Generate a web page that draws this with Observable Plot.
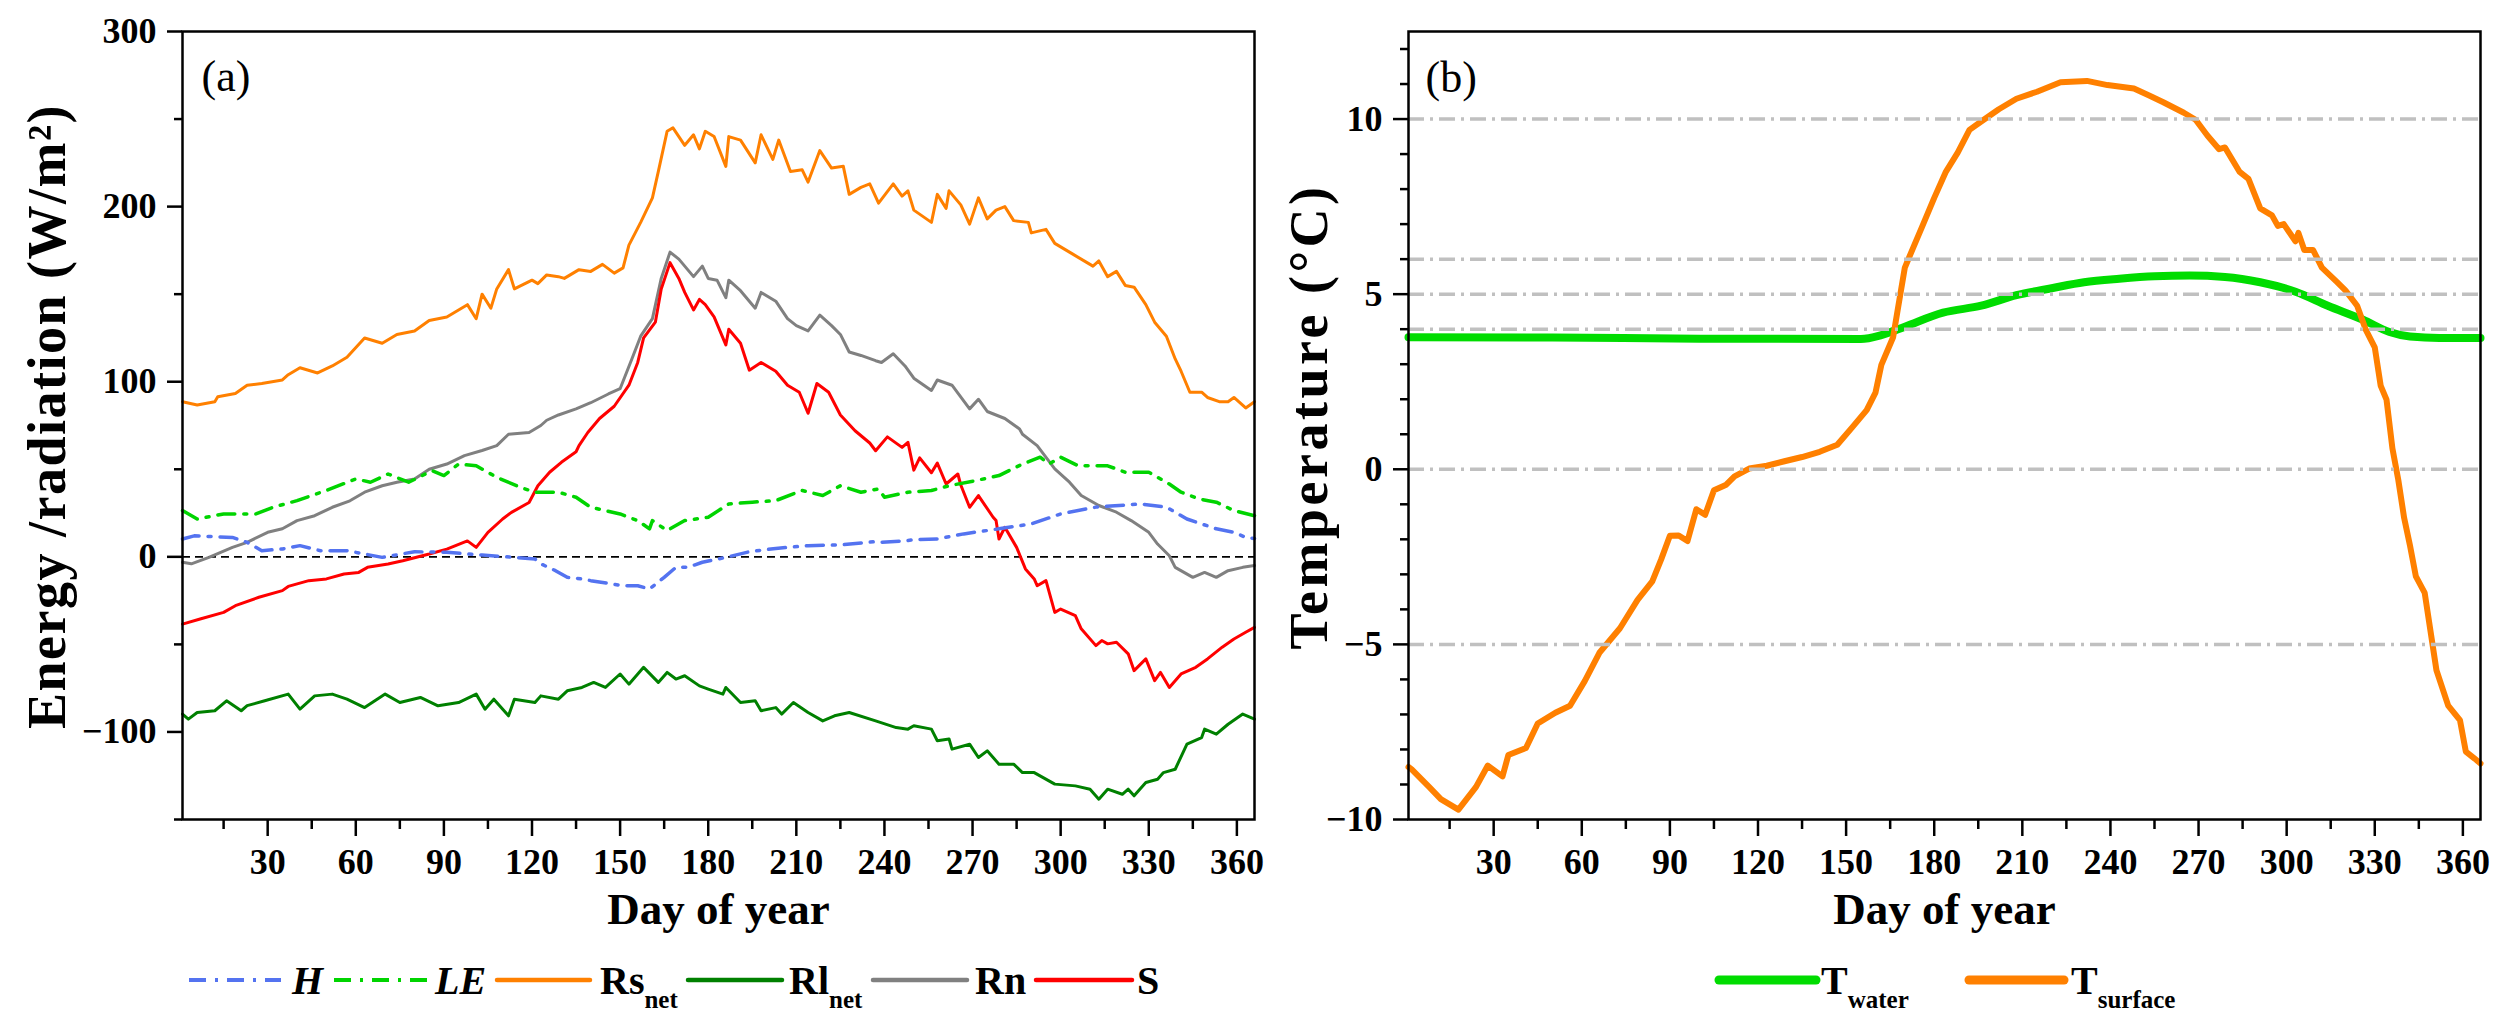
<!DOCTYPE html>
<html>
<head>
<meta charset="utf-8">
<script src="https://cdn.jsdelivr.net/npm/d3@7"></script>
<script src="https://cdn.jsdelivr.net/npm/@observablehq/plot@0.6"></script>
<style>
  html, body { margin: 0; padding: 0; background: #fff; }
  body { width: 2509px; height: 1030px; position: relative; overflow: hidden; font-family: "Liberation Serif", "Times New Roman", serif; }
  .panel { position: absolute; top: 0; }
  .panel svg { max-width: none; overflow: visible; }
  .legend { position: absolute; top: 945px; left: 0; }
</style>
</head>
<body>
<div id="panelA" class="panel" style="left:0px"></div>
<div id="panelB" class="panel" style="left:1226px"></div>
<svg id="legend" class="legend" width="2509" height="85"></svg>
<script>
// ---- Panel (a): daily energy / radiation terms, W/m² ----
const H = [[1,10.2],[5,12],[18,11.1],[23,8.3],[28,3.5],[35,4.5],[41,6.4],[48,3.5],[57,3.5],[69,-0.3],[80,2.9],[91,2.6],[103,1],[114,-0.3],[121,-1.2],[123,-4],[128,-7.9],[130,-9.8],[132,-11.7],[137,-12.6],[140,-13.6],[151,-16.5],[156,-16.5],[160,-18.4],[165,-11.7],[169,-6],[173,-6],[178,-3.1],[186,-0.3],[194,2.9],[203,4.8],[214,6.4],[225,6.8],[237,8.7],[239,8.3],[248,9.3],[250,9.8],[258,10.2],[267,13.1],[279,16],[290,18.8],[300,24.5],[312,28.4],[327,30.2],[336,28.4],[343,21.6],[353,16],[359,14],[363,11.1],[366,10.5]];

const LE = [[1,26.4],[6,21.6],[15,24.5],[26,24.5],[32,28.4],[40,32.1],[50,37.9],[60,44.5],[65,42.6],[71,47.3],[78,42.6],[86,49.2],[90,46.4],[95,53],[101,52],[108,45.4],[116,39.7],[121,36.9],[129,36.9],[135,34],[140,28.3],[150,24.5],[156,20.7],[160,16],[161,20.7],[166,15],[172,20.7],[180,22.6],[187,30.2],[195,31.2],[203,32.1],[212,37.9],[219,35],[225,40.6],[232,36.9],[238,38.8],[240,34],[248,36.9],[256,37.9],[262,40.6],[271,43.5],[279,46.4],[287,53],[293,56.9],[296,53],[300,56.9],[306,52],[316,52],[322,48.3],[330,48.3],[337,41.6],[341,36.9],[347,33.1],[353,31.2],[359,26.4],[366,23.5]];

const RsNet = [[1,88.6],[6,86.7],[12,88.6],[13,91.4],[19,93.3],[23,98],[28,99],[35,101],[37,104],[41,108],[47,105],[52,109],[57,114],[63,125],[69,122],[74,127],[80,129],[85,135],[91,137],[98,144],[101,136],[103,150],[106,142],[108,153],[112,164],[114,153],[120,158],[122,156],[125,161],[129,160],[131,159],[136,164],[140,163],[144,167],[148,162],[151,165],[153,178],[157,191],[161,205],[163,220],[166,243],[168,245],[172,235],[175,241],[177,233],[179,243],[182,240],[186,223],[187,240],[191,238],[196,225],[198,241],[202,227],[204,238],[208,220],[212,221],[214,214],[218,232],[222,222],[226,223],[228,207],[232,211],[235,213],[238,202],[243,213],[246,206],[248,209],[250,198],[256,191],[258,207],[261,199],[262,209],[266,201],[269,190],[272,205],[275,193],[278,198],[281,200],[284,192],[289,191],[290,185],[295,187],[298,179],[304,173],[311,166],[313,169],[316,160],[319,163],[322,155],[325,154],[329,144],[332,134],[336,126],[339,113],[341,106],[344,94],[348,94],[350,91],[354,88.6],[357,88.6],[359,91],[363,85],[366,88.6]];

const RlNet = [[1,-89.8],[3,-92.7],[6,-88.9],[12,-87.9],[16,-82.2],[21,-87.9],[23,-85],[29,-82.2],[37,-78.4],[41,-87],[46,-79.4],[52,-78.4],[57,-81.3],[63,-86.1],[70,-78.4],[75,-83.2],[82,-80.3],[88,-85.1],[95,-83.2],[101,-78.4],[104,-87],[107,-81.3],[112,-90.8],[114,-81.3],[121,-83.2],[123,-79.4],[129,-81.3],[132,-76.5],[137,-74.6],[141,-71.7],[145,-74.6],[150,-66.9],[153,-72.7],[158,-63.1],[163,-71.7],[166,-66],[169,-69.8],[172,-67.9],[177,-73.7],[180,-75.5],[185,-78.4],[186,-74.6],[191,-83.2],[196,-82.2],[198,-87.9],[203,-86.1],[205,-89.8],[209,-83.2],[214,-88.9],[219,-93.7],[223,-90.8],[228,-88.9],[237,-93.7],[244,-97.5],[248,-98.4],[250,-96.5],[256,-98.4],[258,-105],[262,-104],[263,-109.8],[269,-107],[272,-114.6],[275,-110.8],[279,-118.4],[284,-118.4],[287,-123.2],[291,-123.2],[298,-129.8],[305,-130.8],[310,-132.7],[313,-138.4],[316,-132.7],[321,-135.6],[323,-132.7],[325,-136.5],[329,-128.9],[333,-127],[335,-123.2],[339,-121.3],[343,-107],[348,-103.2],[349,-98.4],[353,-101.3],[357,-95.6],[362,-89.8],[366,-92.7]];

const Rn = [[1,-3.1],[4,-4],[10,-0.3],[18,5.4],[23,8.3],[30,14],[35,16],[40,20.7],[46,23.5],[52,28.3],[58,32],[63,36.9],[69,40.6],[74,42.6],[80,44.5],[85,50],[91,53],[97,57.8],[103,60.7],[108,63.5],[112,70],[119,71],[123,75],[125,78],[129,81],[135,84.5],[140,88],[146,93],[150,96],[154,113],[157,126],[161,136],[164,159],[167,174],[170,170],[172,166],[175,160],[178,166],[180,159],[183,158],[186,148],[187,158],[191,152],[196,142],[198,151],[203,146],[207,136],[210,132],[214,129],[218,138],[222,132],[225,127],[228,117],[232,115],[237,112],[239,111],[243,116],[247,109],[250,102],[256,95],[258,101],[263,98],[269,84.5],[272,90],[275,83],[281,79],[286,73],[287,70],[292,63.5],[298,50.2],[303,42.6],[307,35],[313,29.3],[319,25.5],[324,20.7],[330,14],[333,7.3],[337,0.6],[339,-6],[345,-11.7],[349,-8.9],[353,-11.7],[357,-7.9],[362,-6],[366,-5]];

const S = [[1,-38.4],[7,-35.5],[15,-31.7],[19,-27.9],[27,-23.1],[35,-19.3],[37,-16.9],[44,-13.6],[50,-12.6],[56,-9.8],[61,-8.9],[64,-6],[71,-4.1],[76,-2.2],[85,1.6],[91,4.4],[98,9.1],[101,5.4],[105,14],[110,21.6],[113,25.4],[119,31],[122,40.6],[126,48.3],[130,54],[135,60],[136,63.5],[139,71],[143,79],[148,86],[153,98],[156,111],[158,125],[162,134],[164,153],[167,168],[170,159],[172,151],[175,141],[177,147],[179,144],[182,137],[186,121],[187,130],[191,122],[194,106.6],[198,111],[203,106],[207,98],[211,94],[214,82],[217,99],[221,94],[225,81],[230,72],[235,65],[237,60.6],[241,68.5],[246,62.5],[248,65.4],[250,49.5],[252,56.5],[256,48],[258,53.5],[261,41.6],[265,47.3],[266,41],[269,28.3],[272,35],[277,22.6],[278,20.7],[279,10.2],[281,16.9],[285,5.4],[288,-6.9],[291,-12.6],[292,-16.5],[295,-13.6],[298,-31.7],[300,-29.8],[305,-33.6],[307,-41.1],[312,-50.7],[314,-47.8],[316,-49.7],[319,-48.8],[323,-55.4],[325,-65],[329,-58.3],[332,-70.7],[334,-66],[337,-74.6],[341,-66.9],[346,-63.1],[350,-58.3],[355,-51.6],[359,-46.9],[363,-43.1],[366,-40.3]];

// ---- Panel (b): water and surface temperature, °C ----
const Twater = [[1,3.77],[50,3.76],[100,3.73],[155,3.72],[162,3.83],[170,4.07],[183,4.47],[196,4.67],[208,4.97],[220,5.17],[231,5.34],[243,5.44],[255,5.51],[267,5.53],[279,5.49],[291,5.34],[303,5.07],[314,4.67],[326,4.27],[335,3.92],[342,3.79],[352,3.75],[366,3.75]];

const Tsurface = [[1,-8.5],[2,-8.56],[8,-9.07],[12,-9.42],[18,-9.72],[24,-9.07],[28,-8.46],[33,-8.77],[35,-8.16],[41,-7.96],[45,-7.26],[51,-6.95],[56,-6.75],[61,-6.05],[66,-5.24],[73,-4.54],[79,-3.73],[84,-3.2],[87,-2.58],[90,-1.9],[93,-1.89],[96,-2.05],[99,-1.14],[102,-1.3],[105,-0.6],[109,-0.45],[112,-0.2],[117,0.02],[123,0.1],[129,0.23],[135,0.35],[141,0.5],[147,0.7],[152,1.19],[157,1.69],[160,2.19],[162,2.98],[166,3.77],[168,4.77],[170,5.76],[173,6.36],[176,6.95],[180,7.75],[184,8.5],[188,9.04],[192,9.69],[196,9.93],[202,10.28],[208,10.58],[215,10.78],[223,11.05],[232,11.09],[239,10.97],[248,10.87],[253,10.68],[258,10.48],[265,10.18],[269,9.98],[273,9.53],[277,9.14],[279,9.19],[284,8.49],[287,8.29],[291,7.45],[295,7.25],[297,6.95],[299,7.0],[303,6.51],[304,6.75],[306,6.26],[309,6.26],[312,5.76],[317,5.36],[320,5.11],[324,4.67],[327,3.97],[330,3.48],[332,2.39],[334,1.99],[336,0.6],[338,-0.3],[340,-1.39],[342,-2.18],[344,-3.06],[347,-3.53],[351,-5.74],[355,-6.75],[359,-7.16],[361,-8.06],[364,-8.26],[366,-8.4]];

// Axis ticks
const dayTicks = [30, 60, 90, 120, 150, 180, 210, 240, 270, 300, 330, 360];
const dayMinorTicks = [15, 45, 75, 105, 135, 165, 195, 225, 255, 285, 315, 345];
const energyTicks = [-100, 0, 100, 200, 300];
const energyMinorTicks = [-150, -50, 50, 150, 250];
const tempTicks = [-10, -5, 0, 5, 10];
const tempMinorTicks = [-9, -8, -7, -6, -4, -3, -2, -1, 1, 2, 3, 4, 6, 7, 8, 9, 11, 12];
const tempRefLines = [10, 6, 5, 4, 0, -5];

const rows = (pairs) => pairs.map(([day, value]) => ({day, value}));

const FONT = "Liberation Serif, Times New Roman, serif";
const SOLID = 3;
const DASHDOT = "17,9,3,9";

function commonAxes(yMajor, yMinor) {
  return [
    Plot.axisX(dayMinorTicks, {tickSize: 10, tickFormat: () => "", strokeWidth: 2.5, label: null}),
    Plot.axisX(dayTicks, {tickSize: 17, tickPadding: 12, strokeWidth: 2.5, fontSize: 36, fontWeight: "bold", label: null}),
    Plot.axisY(yMinor, {tickSize: 8, tickFormat: () => "", strokeWidth: 2.5, label: null}),
    Plot.axisY(yMajor, {tickSize: 15, tickPadding: 11, strokeWidth: 2.5, fontSize: 36, fontWeight: "bold", label: null}),
    Plot.frame({strokeWidth: 2.5}),
    Plot.text(["Day of year"], {frameAnchor: "bottom", dy: 104, lineAnchor: "bottom", fontSize: 45, fontWeight: "bold"})
  ];
}

const style = {fontFamily: FONT, fontSize: "36px", color: "black", background: "transparent", overflow: "visible"};

// Panel (a)
const plotA = Plot.plot({
  width: 1270, height: 945,
  marginLeft: 182, marginRight: 16, marginTop: 31, marginBottom: 126,
  x: {domain: [1, 366]},
  y: {domain: [-150, 300]},
  style,
  marks: [
    Plot.ruleY([0], {stroke: "black", strokeWidth: 1.8, strokeDasharray: "8,5"}),
    Plot.line(rows(RsNet), {x: "day", y: "value", stroke: "#ff8000", strokeWidth: SOLID}),
    Plot.line(rows(Rn), {x: "day", y: "value", stroke: "#808080", strokeWidth: SOLID}),
    Plot.line(rows(S), {x: "day", y: "value", stroke: "#ff0000", strokeWidth: SOLID}),
    Plot.line(rows(RlNet), {x: "day", y: "value", stroke: "#008000", strokeWidth: SOLID}),
    Plot.line(rows(LE), {x: "day", y: "value", stroke: "#00d400", strokeWidth: 3.5, strokeDasharray: DASHDOT}),
    Plot.line(rows(H), {x: "day", y: "value", stroke: "#5473f0", strokeWidth: 3.5, strokeDasharray: DASHDOT}),
    ...commonAxes(energyTicks, energyMinorTicks),
    Plot.text(["Energy /radiation (W/m²)"], {frameAnchor: "left", dx: -118, dy: -9, rotate: -90, textAnchor: "middle", lineAnchor: "bottom", fontSize: 54, fontWeight: "bold"}),
    Plot.text(["(a)"], {frameAnchor: "top-left", dx: 19, dy: 45, textAnchor: "start", lineAnchor: "middle", fontSize: 44})
  ]
});
document.getElementById("panelA").append(plotA);

// Panel (b)
const plotB = Plot.plot({
  width: 1283, height: 945,
  marginLeft: 182, marginRight: 29, marginTop: 31, marginBottom: 126,
  x: {domain: [1, 366]},
  y: {domain: [-10, 12.5]},
  style,
  marks: [
    Plot.line(rows(Twater), {x: "day", y: "value", stroke: "#00dc00", strokeWidth: 8, curve: "monotone-x"}),
    Plot.line(rows(Tsurface), {x: "day", y: "value", stroke: "#ff8000", strokeWidth: 6}),
    Plot.ruleY(tempRefLines, {stroke: "#c0c0c0", strokeWidth: 3.5, strokeDasharray: "16,6,3,6"}),
    ...commonAxes(tempTicks, tempMinorTicks),
    Plot.text(["Temperature (°C)"], {frameAnchor: "left", dx: -82, dy: -9, rotate: -90, textAnchor: "middle", lineAnchor: "bottom", fontSize: 54, fontWeight: "bold"}),
    Plot.text(["(b)"], {frameAnchor: "top-left", dx: 17, dy: 46, textAnchor: "start", lineAnchor: "middle", fontSize: 44})
  ]
});
document.getElementById("panelB").append(plotB);

// Spread the rotated axis titles a little
d3.selectAll(".panel text").filter(function () {
  return /^Energy/.test(this.textContent);
}).style("letter-spacing", "1.5px");
d3.selectAll(".panel text").filter(function () {
  return /^Temperature/.test(this.textContent);
}).style("letter-spacing", "3.5px");

// ---- Legends below each panel ----
const legend = d3.select("#legend").attr("font-family", FONT).attr("font-weight", "bold");
const LY = 35;
const legendItems = [
  {x0: 189, x1: 281, color: "#5473f0", dash: DASHDOT, w: 4, label: "H", italic: true, tx: 292},
  {x0: 334, x1: 427, color: "#00d400", dash: DASHDOT, w: 4, label: "LE", italic: true, tx: 435},
  {x0: 497, x1: 590, color: "#ff8000", w: 4.5, label: "Rs", sub: "net", tx: 600},
  {x0: 688, x1: 782, color: "#008000", w: 4.5, label: "Rl", sub: "net", tx: 789},
  {x0: 873, x1: 967, color: "#808080", w: 4.5, label: "Rn", tx: 975},
  {x0: 1036, x1: 1132, color: "#ff0000", w: 4.5, label: "S", tx: 1137},
  {x0: 1719, x1: 1816, color: "#00dc00", w: 9, label: "T", sub: "water", tx: 1821},
  {x0: 1969, x1: 2064, color: "#ff8000", w: 9, label: "T", sub: "surface", tx: 2071}
];
for (const it of legendItems) {
  legend.append("line")
    .attr("x1", it.x0).attr("x2", it.x1).attr("y1", LY).attr("y2", LY)
    .attr("stroke", it.color).attr("stroke-width", it.w)
    .attr("stroke-linecap", it.dash ? "butt" : "round")
    .attr("stroke-dasharray", it.dash || null);
  const t = legend.append("text").attr("x", it.tx).attr("y", LY + 14).attr("font-size", 40);
  t.append("tspan").text(it.label).attr("font-style", it.italic ? "italic" : null);
  if (it.sub) t.append("tspan").attr("dy", 14).attr("font-size", 25).text(it.sub);
}
</script>
</body>
</html>
